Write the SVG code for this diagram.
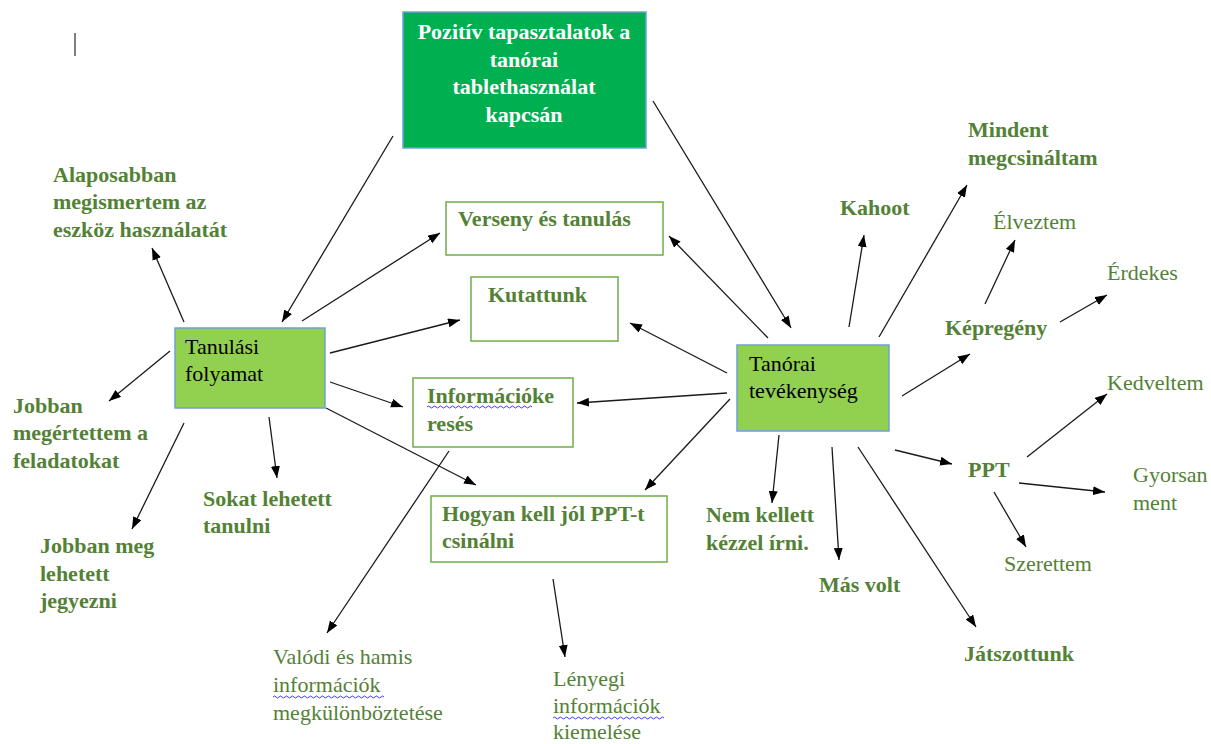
<svg xmlns="http://www.w3.org/2000/svg" width="1211" height="744" viewBox="0 0 1211 744">
<style>
text{font-family:"Liberation Serif","Times New Roman",serif;font-size:22px}
.g{fill:#538135}
.b{font-weight:bold}
.k{fill:#000}
.w{fill:#fff;font-weight:bold}
.box{fill:#fff;stroke:#70ad47;stroke-width:1.5}
.gb{stroke:#6fa0d6;stroke-width:1.5}
.c line{stroke:#1a1a1a;stroke-width:1.3;marker-end:url(#ah)}
.wavy{fill:none;stroke:#3b3bff;stroke-width:1}
</style>
<defs>
<marker id="ah" markerUnits="userSpaceOnUse" markerWidth="13" markerHeight="10" refX="12" refY="4.5" orient="auto">
<path d="M0,0 L12,4.5 L0,9 z" fill="#000"/>
</marker>
</defs>
<rect width="1211" height="744" fill="#fff"/>
<line x1="75" y1="33" x2="75" y2="56" stroke="#000" stroke-width="1"/>

<g class="c" id="connectors">
<line x1="393" y1="136" x2="282" y2="322"/>
<line x1="653" y1="101" x2="791" y2="328"/>
<line x1="184" y1="322" x2="152" y2="248"/>
<line x1="170" y1="351" x2="109" y2="401"/>
<line x1="184" y1="423" x2="132" y2="529"/>
<line x1="269" y1="417" x2="277" y2="478"/>
<line x1="302" y1="321" x2="440" y2="233"/>
<line x1="330" y1="353" x2="460" y2="320"/>
<line x1="330" y1="382" x2="403" y2="407"/>
<line x1="326" y1="408" x2="476" y2="485"/>
<line x1="449" y1="451" x2="327" y2="633"/>
<line x1="553" y1="579" x2="565" y2="657"/>
<line x1="768" y1="338" x2="669" y2="236"/>
<line x1="727" y1="373" x2="630" y2="323"/>
<line x1="727" y1="393" x2="577" y2="403"/>
<line x1="730" y1="399" x2="645" y2="490"/>
<line x1="849" y1="327" x2="864" y2="235"/>
<line x1="879" y1="337" x2="967" y2="185"/>
<line x1="985" y1="304" x2="1015" y2="240"/>
<line x1="1060" y1="322" x2="1107" y2="295"/>
<line x1="902" y1="396" x2="970" y2="354"/>
<line x1="895" y1="450" x2="952" y2="464"/>
<line x1="779" y1="435" x2="772" y2="503"/>
<line x1="832" y1="447" x2="839" y2="560"/>
<line x1="858" y1="447" x2="976" y2="627"/>
<line x1="1027" y1="457" x2="1107" y2="394"/>
<line x1="1019" y1="483" x2="1105" y2="492"/>
<line x1="994" y1="492" x2="1026" y2="547"/>
</g>

<g id="pozitiv">
<rect x="403" y="12" width="243" height="136" fill="#00b050" class="gb"/>
<text class="w" text-anchor="middle" x="524" y="39">Pozitív tapasztalatok a</text>
<text class="w" text-anchor="middle" x="524" y="67">tanórai</text>
<text class="w" text-anchor="middle" x="524" y="94">tablethasználat</text>
<text class="w" text-anchor="middle" x="524" y="122">kapcsán</text>
</g>

<g id="tanulasi">
<rect x="175" y="328" width="150" height="80" fill="#92d050" class="gb"/>
<text class="k" x="185" y="354">Tanulási</text>
<text class="k" x="185" y="381">folyamat</text>
</g>

<g id="tanorai">
<rect x="737" y="345" width="152" height="86" fill="#92d050" class="gb"/>
<text class="k" x="749" y="371">Tanórai</text>
<text class="k" x="749" y="398">tevékenység</text>
</g>

<g id="verseny">
<rect x="446" y="202" width="217" height="53" class="box"/>
<text class="g b" x="458" y="226">Verseny és tanulás</text>
</g>

<g id="kutattunk">
<rect x="471" y="277" width="147" height="64" class="box"/>
<text class="g b" x="488" y="302">Kutattunk</text>
</g>

<g id="informaciokereses">
<rect x="413" y="378" width="160" height="69" class="box"/>
<text class="g b" x="427" y="403">Információke</text>
<text class="g b" x="427" y="431">resés</text>
<path class="wavy" d="M427,407 q1.5,-2 3,0 t3,0 t3,0 t3,0 t3,0 t3,0 t3,0 t3,0 t3,0 t3,0 t3,0 t3,0 t3,0 t3,0 t3,0 t3,0 t3,0 t3,0 t3,0 t3,0 t3,0 t3,0 t3,0 t3,0 t3,0 t3,0 t3,0 t3,0 t3,0 t3,0 t3,0 t3,0 t3,0 t3,0 t3,0"/>
</g>

<g id="hogyan">
<rect x="431" y="496" width="236" height="66" class="box"/>
<text class="g b" x="442" y="521">Hogyan kell jól PPT-t</text>
<text class="g b" x="442" y="548">csinálni</text>
</g>

<g id="alaposabban">
<text class="g b" x="53" y="182">Alaposabban</text>
<text class="g b" x="53" y="209">megismertem az</text>
<text class="g b" x="53" y="237">eszköz használatát</text>
</g>
<g id="jobban-megertettem">
<text class="g b" x="13" y="413">Jobban</text>
<text class="g b" x="13" y="440">megértettem a</text>
<text class="g b" x="13" y="468">feladatokat</text>
</g>
<g id="jobban-meg">
<text class="g b" x="40" y="553">Jobban meg</text>
<text class="g b" x="40" y="581">lehetett</text>
<text class="g b" x="40" y="608">jegyezni</text>
</g>
<g id="sokat">
<text class="g b" x="203" y="506">Sokat lehetett</text>
<text class="g b" x="203" y="533">tanulni</text>
</g>
<g id="valodi">
<text class="g" x="273" y="664">Valódi és hamis</text>
<text class="g" x="273" y="692">információk</text>
<text class="g" x="273" y="720">megkülönböztetése</text>
<path class="wavy" d="M273,697 q1.5,-2 3,0 t3,0 t3,0 t3,0 t3,0 t3,0 t3,0 t3,0 t3,0 t3,0 t3,0 t3,0 t3,0 t3,0 t3,0 t3,0 t3,0 t3,0 t3,0 t3,0 t3,0 t3,0 t3,0 t3,0 t3,0 t3,0 t3,0 t3,0 t3,0 t3,0 t3,0 t3,0 t3,0 t3,0 t3,0 t3,0 t3,0"/>
</g>
<g id="lenyegi">
<text class="g" x="553" y="686">Lényegi</text>
<text class="g" x="553" y="713">információk</text>
<text class="g" x="553" y="739">kiemelése</text>
<path class="wavy" d="M553,718 q1.5,-2 3,0 t3,0 t3,0 t3,0 t3,0 t3,0 t3,0 t3,0 t3,0 t3,0 t3,0 t3,0 t3,0 t3,0 t3,0 t3,0 t3,0 t3,0 t3,0 t3,0 t3,0 t3,0 t3,0 t3,0 t3,0 t3,0 t3,0 t3,0 t3,0 t3,0 t3,0 t3,0 t3,0 t3,0 t3,0 t3,0 t3,0"/>
</g>
<g id="mindent">
<text class="g b" x="968" y="137">Mindent</text>
<text class="g b" x="968" y="165">megcsináltam</text>
</g>
<g id="kahoot"><text class="g b" x="840" y="215">Kahoot</text></g>
<g id="elveztem"><text class="g" x="993" y="229">Élveztem</text></g>
<g id="erdekes"><text class="g" x="1107" y="280">Érdekes</text></g>
<g id="kepregeny"><text class="g b" x="945" y="335">Képregény</text></g>
<g id="kedveltem"><text class="g" x="1107" y="390">Kedveltem</text></g>
<g id="ppt"><text class="g b" x="968" y="477">PPT</text></g>
<g id="gyorsan">
<text class="g" x="1133" y="482">Gyorsan</text>
<text class="g" x="1133" y="510">ment</text>
</g>
<g id="szerettem"><text class="g" x="1004" y="571">Szerettem</text></g>
<g id="nem-kellett">
<text class="g b" x="706" y="522">Nem kellett</text>
<text class="g b" x="706" y="550">kézzel írni.</text>
</g>
<g id="mas-volt"><text class="g b" x="819" y="592">Más volt</text></g>
<g id="jatszottunk"><text class="g b" x="964" y="661">Játszottunk</text></g>
</svg>
